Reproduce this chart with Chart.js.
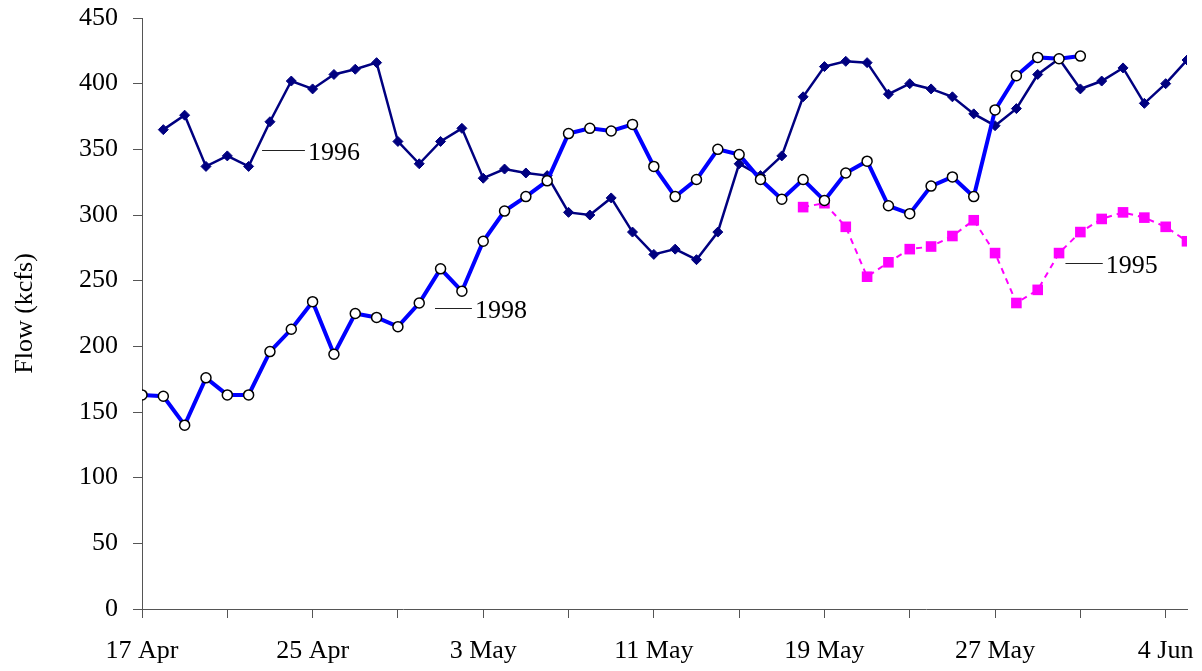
<!DOCTYPE html>
<html>
<head>
<meta charset="utf-8">
<script src="https://cdn.jsdelivr.net/npm/chart.js@4/dist/chart.umd.min.js"></script>
<style>
  html, body { margin: 0; padding: 0; background: #fff; }
  #grafico { display: block; }
</style>
</head>
<body>
<canvas id="grafico" width="1202" height="671"></canvas>
<script>
// dias contados desde el 17 Apr (dia 0)
const etiquetasX = ['17 Apr', '25 Apr', '3 May', '11 May', '19 May', '27 May', '4 Jun'];
const diasTicks = [0, 4, 8, 12, 16, 20, 24, 28, 32, 36, 40, 44, 48];

// 1998: dias 0..44
const inicio1998 = 0;
const flujo1998 = [163, 162, 140, 176, 163, 163, 196, 213, 234, 194, 225, 222, 215, 233, 259, 242,
    280, 303, 314, 326, 362, 366, 364, 369, 337, 314, 327, 350, 346, 327, 312, 327,
    311, 332, 341, 307, 301, 322, 329, 314, 380, 406, 420, 419, 421];

// 1996: dias 1..49
const inicio1996 = 1;
const flujo1996 = [365, 376, 337, 345, 337, 371, 402, 396, 407, 411, 416, 356, 339, 356, 366,
    328, 335, 332, 330, 302, 300, 313, 287, 270, 274, 266, 287, 339, 330, 345,
    390, 413, 417, 416, 392, 400, 396, 390, 377, 368, 381, 407, 419, 396, 402, 412, 385, 400, 418];

// 1995: dias 31..49
const inicio1995 = 31;
const flujo1995 = [306, 309, 291, 253, 264, 274, 276, 284, 296, 271, 233, 243, 271, 287, 297, 302, 298, 291, 280];

// etiquetas de las series (texto, linea guia desde/hasta en dias, valor)
const rotulos = ['1996', '1998', '1995'];
const rotuloDesde = [5.63, 13.74, 43.3];
const rotuloHasta = [7.64, 15.47, 45.05];
const rotuloValor = [349.5, 229.2, 263.5];

const fuente = "'Liberation Serif', 'Times New Roman', serif";

function aPuntos(inicio, valores) {
    return valores.map((v, i) => ({ x: inicio + i, y: v }));
}

const rotulosPlugin = {
    id: 'rotulos',
    afterDatasetsDraw(chart) {
        const ctx = chart.ctx;
        const sx = chart.scales.x;
        const sy = chart.scales.y;
        ctx.save();
        ctx.font = '26px ' + fuente;
        ctx.fillStyle = '#000';
        ctx.strokeStyle = '#222';
        ctx.lineWidth = 1;
        ctx.textBaseline = 'middle';
        ctx.textAlign = 'left';
        rotulos.forEach((texto, i) => {
            const x1 = sx.getPixelForValue(rotuloDesde[i]);
            const x2 = sx.getPixelForValue(rotuloHasta[i]);
            const y = Math.round(sy.getPixelForValue(rotuloValor[i])) + 0.5;
            ctx.beginPath();
            ctx.moveTo(x1, y);
            ctx.lineTo(x2, y);
            ctx.stroke();
            ctx.fillText(texto, x2 + 3, y + 3);
        });
        ctx.restore();
    }
};

const ctx = document.getElementById('grafico').getContext('2d');
new Chart(ctx, {
    type: 'line',
    data: {
        datasets: [
            {
                label: '1998',
                data: aPuntos(inicio1998, flujo1998),
                borderColor: '#0000ff',
                borderWidth: 4,
                pointStyle: 'circle',
                pointRadius: 5,
                pointBackgroundColor: '#fff',
                pointBorderColor: '#000',
                pointBorderWidth: 1.5,
                tension: 0,
                order: 0
            },
            {
                label: '1996',
                data: aPuntos(inicio1996, flujo1996),
                borderColor: '#000080',
                borderWidth: 2.5,
                pointStyle: 'rectRot',
                pointRadius: 5,
                pointBackgroundColor: '#000080',
                pointBorderColor: '#000080',
                pointBorderWidth: 1,
                tension: 0,
                order: 1
            },
            {
                label: '1995',
                data: aPuntos(inicio1995, flujo1995),
                borderColor: '#ff00ff',
                borderWidth: 2,
                borderDash: [6, 5],
                pointStyle: 'rect',
                pointRadius: 7.5,
                pointBackgroundColor: '#ff00ff',
                pointBorderColor: '#ff00ff',
                pointBorderWidth: 0,
                tension: 0,
                order: 2
            }
        ]
    },
    options: {
        responsive: false,
        animation: false,
        events: [],
        layout: { padding: { top: 18, right: 15, left: 0, bottom: 0 } },
        plugins: {
            legend: { display: false },
            tooltip: { enabled: false }
        },
        scales: {
            x: {
                type: 'linear',
                min: 0,
                max: 49,
                afterBuildTicks: (scale) => {
                    scale.ticks = diasTicks.map(v => ({ value: v }));
                },
                afterFit: (scale) => {
                    scale.height = 62;
                    scale.paddingLeft = 0;
                    scale.paddingRight = 0;
                },
                ticks: {
                    autoSkip: false,
                    maxRotation: 0,
                    padding: 18,
                    color: '#000',
                    font: { family: fuente, size: 26 },
                    callback: (v) => (v % 8 === 0 ? etiquetasX[v / 8] : '')
                },
                grid: {
                    drawOnChartArea: false,
                    drawTicks: true,
                    tickLength: 9,
                    tickColor: '#555'
                },
                border: { display: true, color: '#555', width: 1 }
            },
            y: {
                min: 0,
                max: 450,
                afterFit: (scale) => {
                    scale.width = 142;
                    scale.paddingTop = 0;
                    scale.paddingBottom = 0;
                },
                ticks: {
                    stepSize: 50,
                    padding: 15,
                    color: '#000',
                    font: { family: fuente, size: 26 }
                },
                grid: {
                    drawOnChartArea: false,
                    drawTicks: true,
                    tickLength: 9,
                    tickColor: '#555'
                },
                border: { display: true, color: '#555', width: 1 },
                title: {
                    display: true,
                    text: 'Flow (kcfs)',
                    color: '#000',
                    font: { family: fuente, size: 26 },
                    padding: { top: 10, bottom: 0 }
                }
            }
        }
    },
    plugins: [rotulosPlugin]
});
</script>
</body>
</html>
